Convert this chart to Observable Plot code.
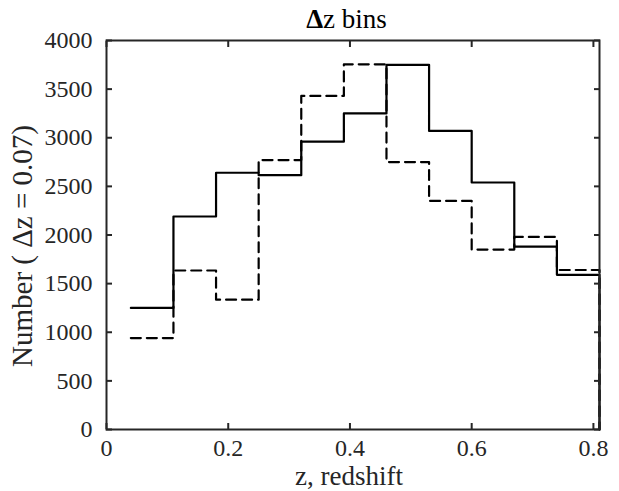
<!DOCTYPE html>
<html>
<head>
<meta charset="utf-8">
<script src="https://cdn.jsdelivr.net/npm/d3@7"></script>
<script src="https://cdn.jsdelivr.net/npm/@observablehq/plot@0.6"></script>
<style>
  body { margin: 0; background: #fff; }
  #wrap { position: relative; width: 619px; height: 491px; }
  #title {
    position: absolute; left: 100px; width: 493px; top: 3px;
    text-align: center; font: 27px "Liberation Serif", serif; color: #000;
    line-height: 32px; white-space: nowrap;
  }
</style>
</head>
<body>
<div id="wrap"><div id="title"><b>Δ</b>z bins</div></div>
<script>
// Redshift histogram, bins of width Δz = 0.07 (left edges)
const binStart = [0.04, 0.11, 0.18, 0.25, 0.32, 0.39, 0.46, 0.53, 0.60, 0.67, 0.74];
const binEnd = 0.81;
const countsSolid  = [1250, 2190, 2640, 2615, 2960, 3250, 3750, 3070, 2540, 1880, 1590];
const countsDashed = [940, 1635, 1335, 2770, 3430, 3755, 2750, 2350, 1850, 1980, 1640];
const xTicks = [0, 0.2, 0.4, 0.6, 0.8];
const yTicks = [0, 500, 1000, 1500, 2000, 2500, 3000, 3500, 4000];
const xLabel = "z, redshift";
const yLabel = "Number ( Δz = 0.07)";

// stairs: one point per bin start, then the closing edge dropping to zero
function stairs(counts) {
  const rows = binStart.map((z, i) => ({z, n: counts[i]}));
  rows.push({z: binEnd, n: 0});
  return rows;
}

const axisColor = "#262626";

const chart = Plot.plot({
  width: 619,
  height: 491,
  marginLeft: 106,
  marginRight: 20,
  marginTop: 40,
  marginBottom: 62,
  style: {fontFamily: "Liberation Serif, serif", fontSize: "24px", color: axisColor, background: "white"},
  x: {domain: [0, 0.81]},
  y: {domain: [0, 4000]},
  marks: [
    Plot.line(stairs(countsDashed), {x: "z", y: "n", curve: "step-after", stroke: "black", strokeWidth: 2.2, strokeDasharray: "10,6"}),
    Plot.line(stairs(countsSolid), {x: "z", y: "n", curve: "step-after", stroke: "black", strokeWidth: 2.2}),
    // tick labels
    Plot.axisX(xTicks, {anchor: "bottom", tickSize: 0, tickPadding: 9, fontSize: 24,
      tickFormat: d => d === 0 ? "0" : d3.format(".1f")(d), label: null}),
    Plot.axisY(yTicks, {anchor: "left", tickSize: 0, tickPadding: 14, fontSize: 24,
      tickFormat: d => String(d), label: null}),
    // axis titles
    Plot.text([xLabel], {frameAnchor: "bottom", text: d => d, lineAnchor: "bottom", dy: 55, dx: -4,
      fontSize: 27, fill: axisColor}),
    Plot.text([yLabel], {frameAnchor: "left", text: d => d, textAnchor: "middle", rotate: -90,
      lineAnchor: "bottom", dx: -75, dy: 11, fontSize: 29, fill: axisColor}),
    // inward ticks on all four sides
    Plot.axisX(xTicks, {anchor: "bottom", tickSize: -6, strokeWidth: 2, tickFormat: () => "", label: null}),
    Plot.axisX(xTicks, {anchor: "top", tickSize: -6, strokeWidth: 2, tickFormat: () => "", label: null}),
    Plot.axisY(yTicks, {anchor: "left", tickSize: -6, strokeWidth: 2, tickFormat: () => "", label: null}),
    Plot.axisY(yTicks, {anchor: "right", tickSize: -6, strokeWidth: 2, tickFormat: () => "", label: null}),
    Plot.frame({stroke: axisColor, strokeWidth: 2})
  ]
});

document.getElementById("wrap").prepend(chart);
</script>
</body>
</html>
